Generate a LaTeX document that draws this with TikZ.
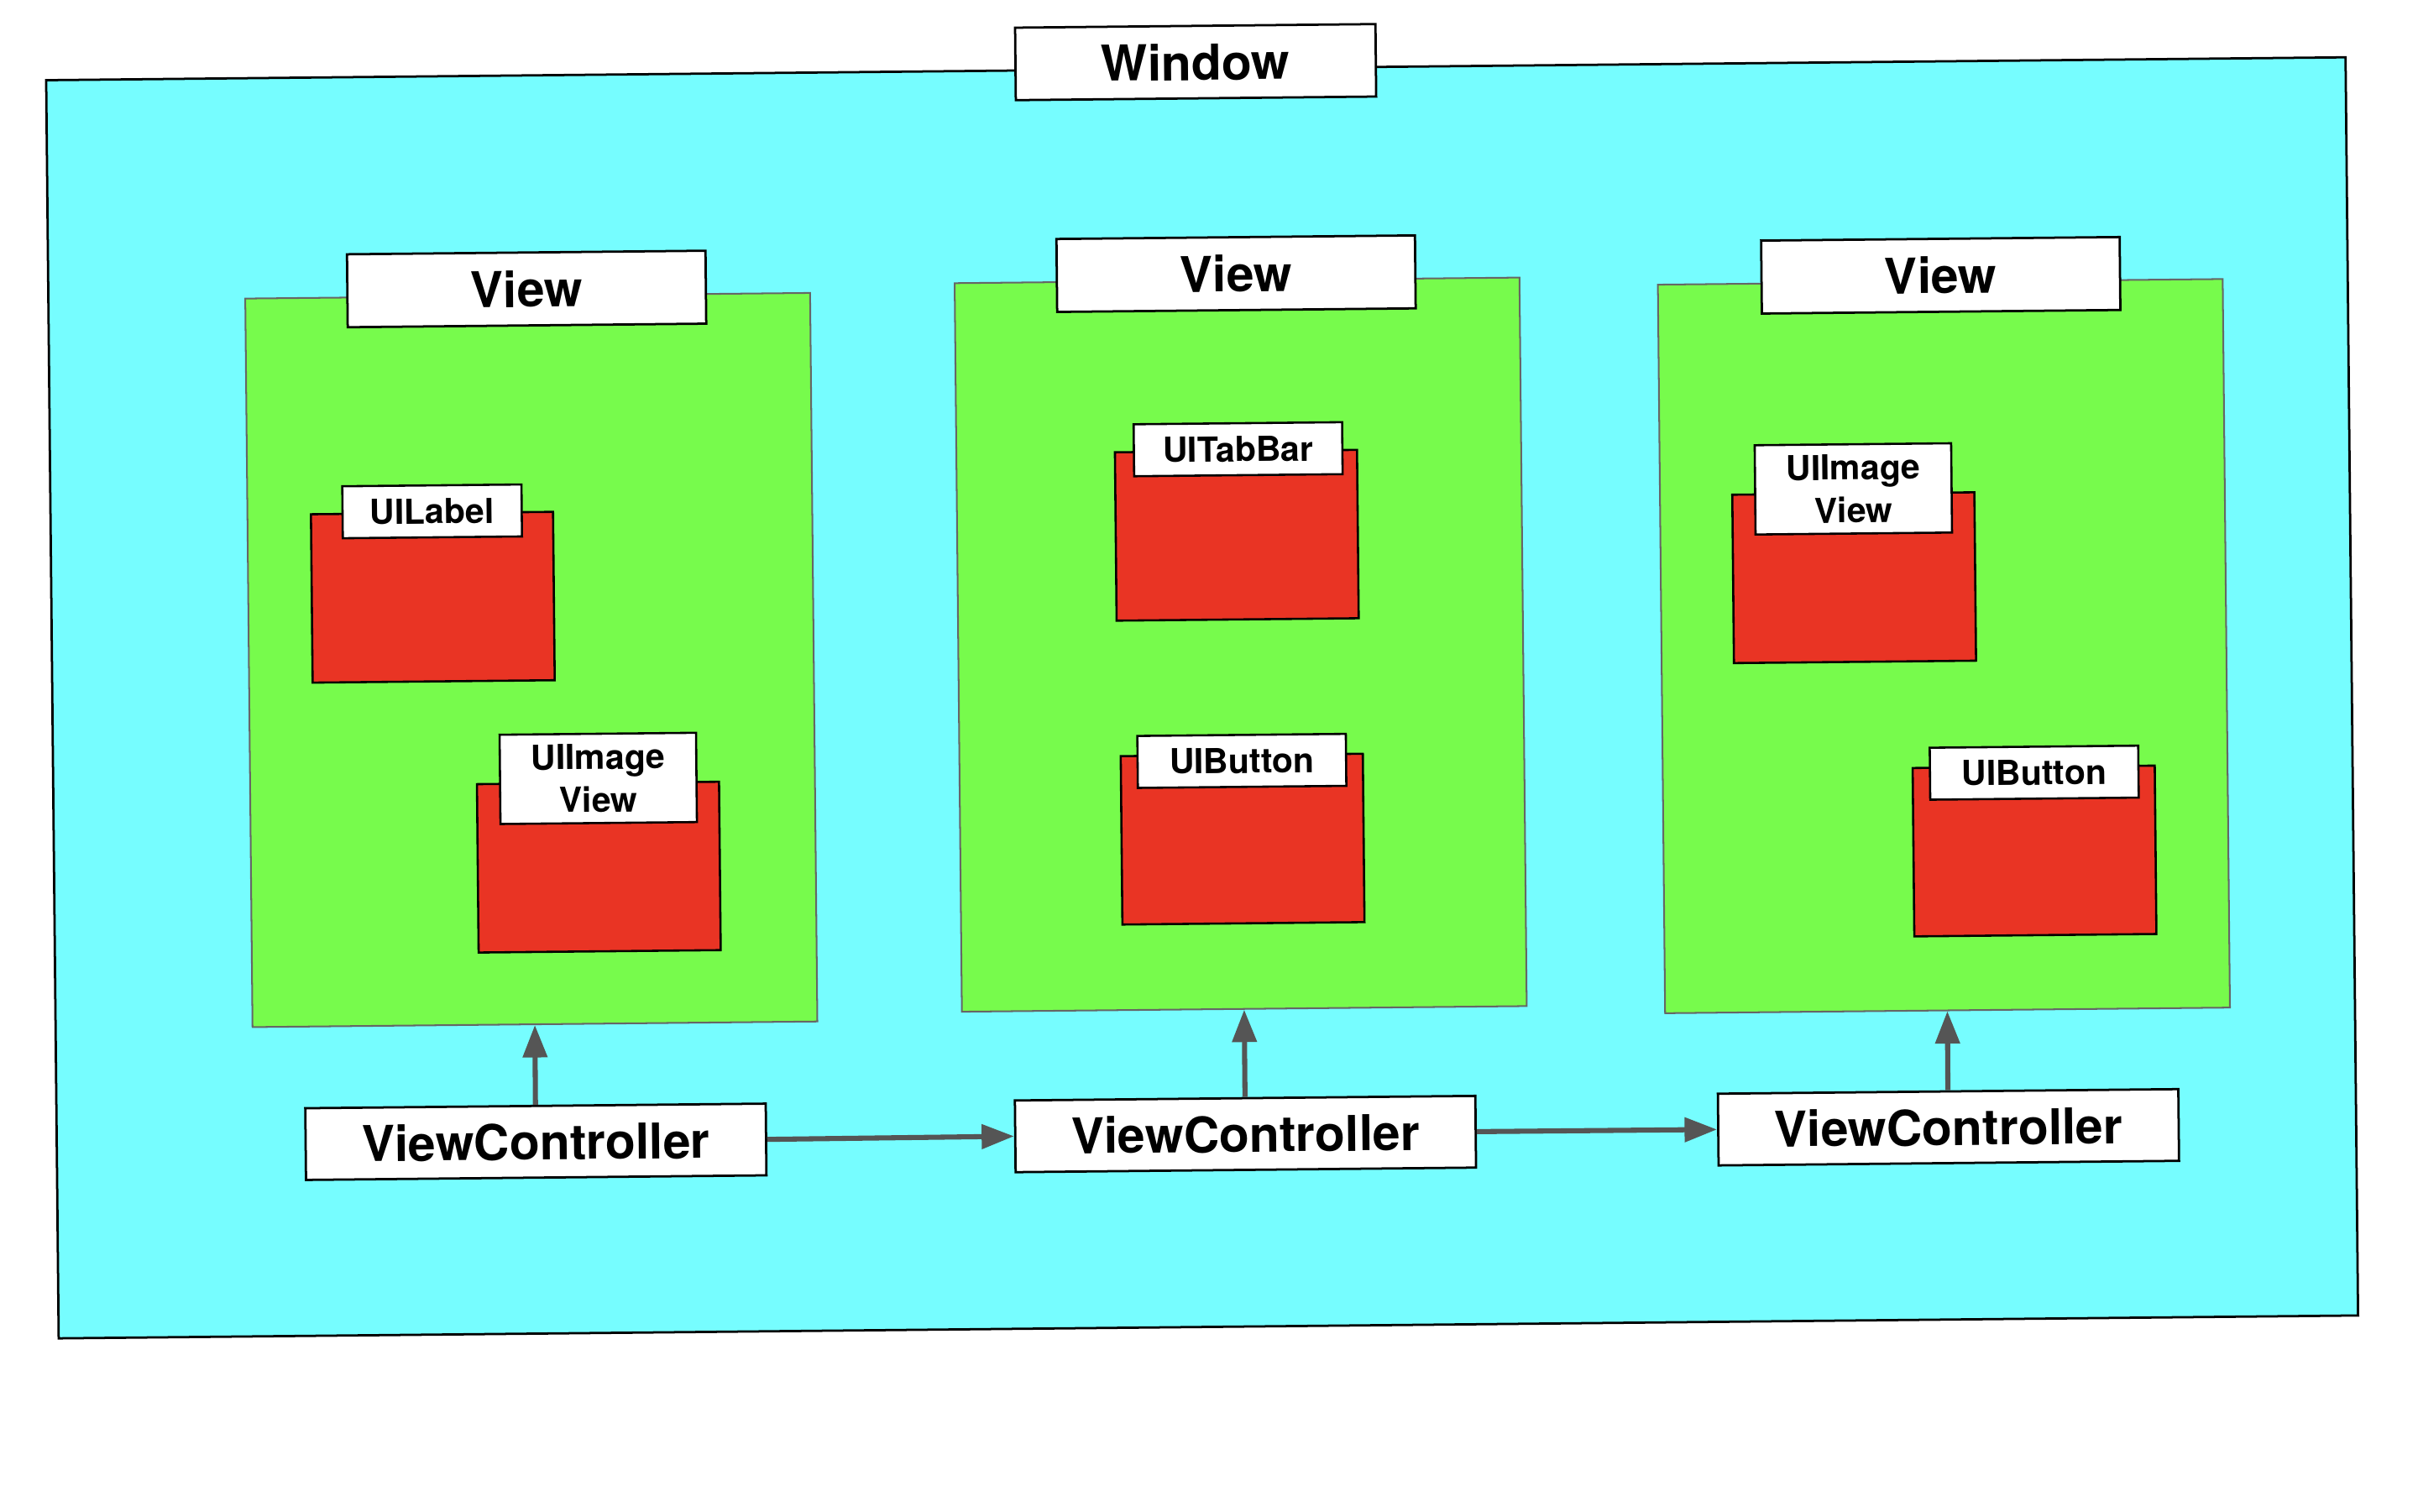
\documentclass[tikz,border=0pt]{standalone}
\usepackage{fontspec}
\setmainfont{TeX Gyre Heros}
\usetikzlibrary{arrows.meta}
\definecolor{wincyan}{RGB}{118,253,255}
\definecolor{viewgreen}{RGB}{119,251,76}
\definecolor{boxred}{RGB}{233,52,36}
\definecolor{arrgray}{RGB}{85,85,85}
\begin{document}
\begin{tikzpicture}[x=1pt,y=-1pt,
  winbox/.style={draw=black, line width=1.5pt, fill=wincyan, inner sep=0pt},
  viewbox/.style={draw=black!60, line width=1.1pt, fill=viewgreen, inner sep=0pt,
    minimum width=366.3pt, minimum height=472.5pt},
  redbox/.style={draw=black, line width=1.4pt, fill=boxred, inner sep=0pt,
    minimum width=157pt, minimum height=109.2pt},
  biglabel/.style={draw=black, line width=1.5pt, fill=white, inner sep=0pt,
    font=\bfseries\fontsize{32}{38}\selectfont, minimum width=232.5pt, minimum height=47.3pt},
  vcbox/.style={biglabel, minimum width=298.6pt, minimum height=46.5pt},
  smalllabel/.style={draw=black, line width=1.4pt, fill=white, inner sep=0pt, align=center,
    font=\bfseries\fontsize{22.3}{27.8}\selectfont, minimum height=33.7pt},
  twolabel/.style={smalllabel, minimum width=127.4pt, minimum height=57.9pt},
  arr/.style={draw=arrgray, line width=3.3pt, -{Triangle[length=21pt,width=15.5pt]}}]
\useasboundingbox (0,0) rectangle (1568,980);
\begin{scope}[rotate around={0.57:(784,490)}, transform shape]
  % window
  \node[winbox, minimum width=1491.2pt, minimum height=816pt] (win) at (779.9,452.5) {};
  \node[biglabel, minimum width=233.7pt, minimum height=47pt] (winlab) at (779.8,40.2) {Window};
  % views
  \node[viewbox] (view1) at (345.15,423.65) {};
  \node[viewbox] (view2) at (805.25,418.25) {};
  \node[viewbox] (view3) at (1261.25,423.75) {};
  \node[biglabel] (vlab1) at (344.5,183) {View};
  \node[biglabel] (vlab2) at (804.65,177.65) {View};
  \node[biglabel] (vlab3) at (1261.6,183.25) {View};
  % red boxes
  \node[redbox] (r1) at (281.7,382.3) {};
  \node[smalllabel, minimum width=116.2pt] (l1) at (281.8,326.6) {UILabel};
  \node[redbox] (r2) at (387.6,558.4) {};
  \node[twolabel] (l2) at (387.8,500.85) {UIImage\\View};
  \node[redbox] (r3) at (803.45,347.3) {};
  \node[smalllabel, minimum width=135.2pt] (l3) at (804.85,291.5) {UITabBar};
  \node[redbox] (r4) at (805.25,544.4) {};
  \node[smalllabel, minimum width=135.2pt] (l4) at (805.25,493.65) {UIButton};
  \node[redbox] (r5) at (1203.5,378.8) {};
  \node[twolabel] (l5) at (1203.55,321.2) {UIImage\\View};
  \node[redbox] (r6) at (1318.7,557.2) {};
  \node[smalllabel, minimum width=135.2pt] (l6) at (1319,506.4) {UIButton};
  % view controllers
  \node[vcbox] (vc1) at (345,736.1) {ViewController};
  \node[vcbox] (vc2) at (805.2,735.65) {ViewController};
  \node[vcbox] (vc3) at (1261.1,735.8) {ViewController};
  % arrows
  \draw[arr] (vc1.north) -- (view1.south);
  \draw[arr] (vc2.north) -- (view2.south);
  \draw[arr] (vc3.north) -- (view3.south);
  \draw[arr] (vc1.east) -- (vc2.west);
  \draw[arr] (vc2.east) -- (vc3.west);
\end{scope}
\end{tikzpicture}
\end{document}
